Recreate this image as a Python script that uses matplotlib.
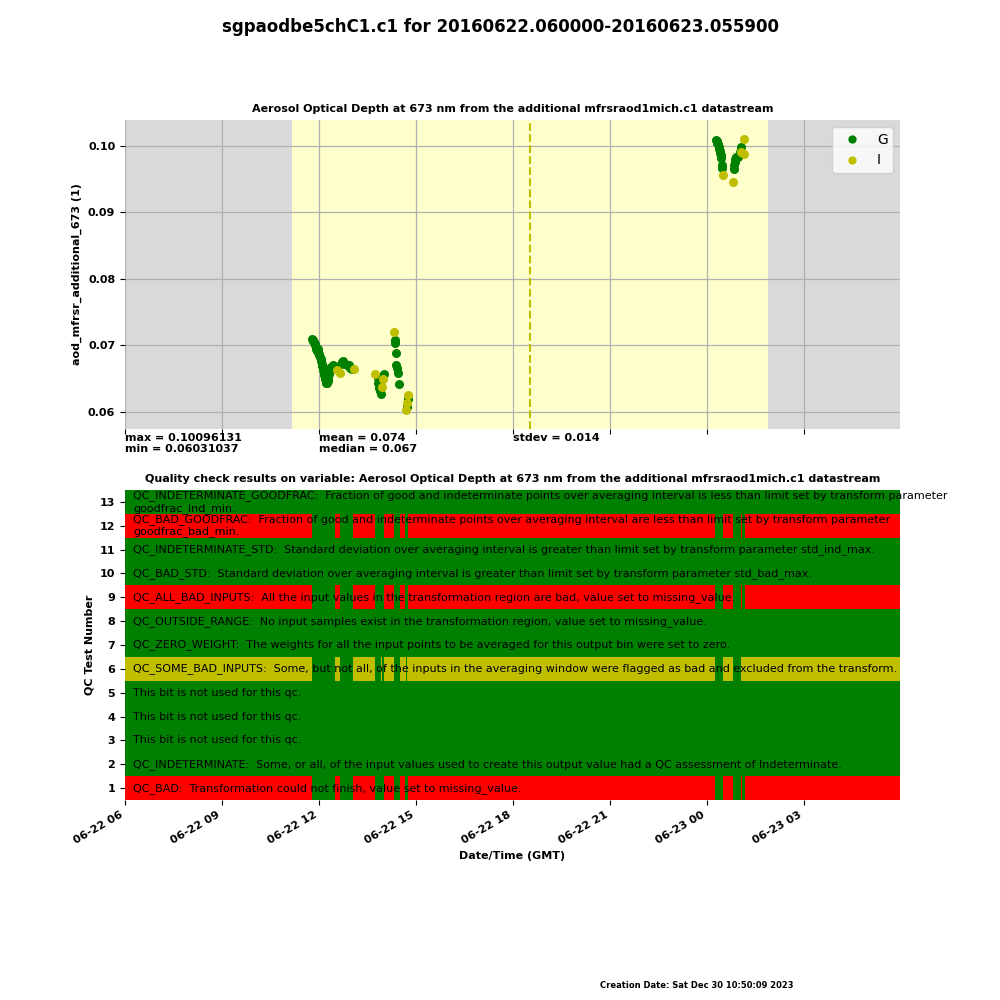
import matplotlib
matplotlib.use("Agg")
import matplotlib.pyplot as plt
import matplotlib.dates as mdates
import matplotlib.transforms as mtransforms
import pandas as pd

# ---------------- data ----------------
fig_title = "sgpaodbe5chC1.c1 for 20160622.060000-20160623.055900"
top_title = "Aerosol Optical Depth at 673 nm from the additional mfrsraod1mich.c1 datastream"
qc_title = ("Quality check results on variable: Aerosol Optical Depth at 673 nm "
            "from the additional mfrsraod1mich.c1 datastream")
top_ylabel = "aod_mfrsr_additional_673 (1)"
qc_ylabel = "QC Test Number"
qc_xlabel = "Date/Time (GMT)"
creation_text = "Creation Date: Sat Dec 30 10:50:09 2023"

time_start = "2016-06-22 06:00"
time_end = "2016-06-23 05:59"
sunrise = "2016-06-22 11:10"
sunset = "2016-06-23 01:53"
solar_noon = "2016-06-22 18:32"

g_times = [
    "2016-06-22 11:48", "2016-06-22 11:49", "2016-06-22 11:50", "2016-06-22 11:51",
    "2016-06-22 11:52", "2016-06-22 11:53", "2016-06-22 11:54", "2016-06-22 11:55",
    "2016-06-22 11:56", "2016-06-22 11:57", "2016-06-22 11:58", "2016-06-22 11:59",
    "2016-06-22 12:00", "2016-06-22 12:01", "2016-06-22 12:02", "2016-06-22 12:03",
    "2016-06-22 12:04", "2016-06-22 12:05", "2016-06-22 12:06", "2016-06-22 12:07",
    "2016-06-22 12:08", "2016-06-22 12:09", "2016-06-22 12:10", "2016-06-22 12:11",
    "2016-06-22 12:12", "2016-06-22 12:13", "2016-06-22 12:14", "2016-06-22 12:15",
    "2016-06-22 12:16", "2016-06-22 12:17", "2016-06-22 12:18", "2016-06-22 12:19",
    "2016-06-22 12:21", "2016-06-22 12:23", "2016-06-22 12:26", "2016-06-22 12:29",
    "2016-06-22 12:41", "2016-06-22 12:43", "2016-06-22 12:45", "2016-06-22 12:47",
    "2016-06-22 12:49", "2016-06-22 12:52", "2016-06-22 12:55", "2016-06-22 12:58",
    "2016-06-22 13:01",
    "2016-06-22 13:49", "2016-06-22 13:50", "2016-06-22 13:51", "2016-06-22 13:53",
    "2016-06-22 13:55", "2016-06-22 14:01",
    "2016-06-22 14:21", "2016-06-22 14:22", "2016-06-22 14:23", "2016-06-22 14:24",
    "2016-06-22 14:25", "2016-06-22 14:26", "2016-06-22 14:29",
    "2016-06-22 14:43", "2016-06-22 14:45",
    "2016-06-23 00:18", "2016-06-23 00:19", "2016-06-23 00:20", "2016-06-23 00:21",
    "2016-06-23 00:22", "2016-06-23 00:23", "2016-06-23 00:24", "2016-06-23 00:25",
    "2016-06-23 00:26", "2016-06-23 00:27", "2016-06-23 00:28", "2016-06-23 00:29",
    "2016-06-23 00:50", "2016-06-23 00:51", "2016-06-23 00:52", "2016-06-23 00:53",
    "2016-06-23 00:55", "2016-06-23 00:58", "2016-06-23 01:00", "2016-06-23 01:02",
    "2016-06-23 01:04",
]
g_values = [
    0.0709, 0.0708, 0.0707, 0.0705,
    0.0702, 0.0700, 0.0697, 0.0695,
    0.0694, 0.0692, 0.0695, 0.0690,
    0.0687, 0.0685, 0.0682, 0.0679,
    0.0676, 0.0672, 0.0669, 0.0666,
    0.0663, 0.0659, 0.0656, 0.0652,
    0.0649, 0.0645, 0.0643, 0.0644,
    0.0647, 0.0651, 0.0657, 0.0661,
    0.0666, 0.0668, 0.0670, 0.0668,
    0.0672, 0.0675, 0.0676, 0.0673,
    0.0672, 0.0671, 0.0670, 0.0666,
    0.0664,
    0.0651, 0.0643, 0.0636, 0.0631,
    0.0627, 0.0657,
    0.0708, 0.0703, 0.0688, 0.0671,
    0.0666, 0.0658, 0.0642,
    0.0608, 0.0620,
    0.1009, 0.1007, 0.1005, 0.1003,
    0.0999, 0.0996, 0.0993, 0.0990,
    0.0986, 0.0982, 0.0972, 0.0967,
    0.0966, 0.0971, 0.0976, 0.0981,
    0.0983, 0.0984, 0.0987, 0.0991,
    0.0999,
]
i_times = [
    "2016-06-22 12:33", "2016-06-22 12:39", "2016-06-22 13:05",
    "2016-06-22 13:44", "2016-06-22 13:57", "2016-06-22 13:59",
    "2016-06-22 14:20",
    "2016-06-22 14:42", "2016-06-22 14:44", "2016-06-22 14:46",
    "2016-06-23 00:30", "2016-06-23 00:49", "2016-06-23 01:03",
    "2016-06-23 01:09", "2016-06-23 01:10",
]
i_values = [
    0.0663, 0.0658, 0.0664,
    0.0657, 0.0638, 0.0650,
    0.0720,
    0.0603, 0.0614, 0.0626,
    0.0956, 0.0946, 0.0991,
    0.1010, 0.0988,
]

stats_left = "max = 0.10096131\nmin = 0.06031037"
stats_mid = "mean = 0.074\nmedian = 0.067"
stats_right = "stdev = 0.014"
stats_times = ["2016-06-22 06:00", "2016-06-22 12:00", "2016-06-22 18:00"]

qc_numbers = list(range(1, 14))
qc_descriptions = [
    "QC_BAD:  Transformation could not finish, value set to missing_value.",
    "QC_INDETERMINATE:  Some, or all, of the input values used to create this output value had a QC assessment of Indeterminate.",
    "This bit is not used for this qc.",
    "This bit is not used for this qc.",
    "This bit is not used for this qc.",
    "QC_SOME_BAD_INPUTS:  Some, but not all, of the inputs in the averaging window were flagged as bad and excluded from the transform.",
    "QC_ZERO_WEIGHT:  The weights for all the input points to be averaged for this output bin were set to zero.",
    "QC_OUTSIDE_RANGE:  No input samples exist in the transformation region, value set to missing_value.",
    "QC_ALL_BAD_INPUTS:  All the input values in the transformation region are bad, value set to missing_value.",
    "QC_BAD_STD:  Standard deviation over averaging interval is greater than limit set by transform parameter std_bad_max.",
    "QC_INDETERMINATE_STD:  Standard deviation over averaging interval is greater than limit set by transform parameter std_ind_max.",
    "QC_BAD_GOODFRAC:  Fraction of good and indeterminate points over averaging interval are less than limit set by transform parameter\ngoodfrac_bad_min.",
    "QC_INDETERMINATE_GOODFRAC:  Fraction of good and indeterminate points over averaging interval is less than limit set by transform parameter\ngoodfrac_ind_min.",
]
# state of each row outside the "passing" windows
qc_base_state = ["bad", "good", "good", "good", "good", "ind", "good",
                 "good", "bad", "good", "good", "bad", "good"]

# windows where the bad-type tests (1, 9, 12) pass
bad_pass_start = ["2016-06-22 11:48", "2016-06-22 12:39", "2016-06-22 13:44",
                  "2016-06-22 14:19", "2016-06-22 14:40", "2016-06-23 00:16",
                  "2016-06-23 00:48", "2016-06-23 01:06"]
bad_pass_end = ["2016-06-22 12:30", "2016-06-22 13:04", "2016-06-22 14:01",
                "2016-06-22 14:30", "2016-06-22 14:45", "2016-06-23 00:30",
                "2016-06-23 01:03", "2016-06-23 01:11"]
# windows where test 6 passes
ind_pass_start = ["2016-06-22 11:48", "2016-06-22 12:39", "2016-06-22 13:44",
                  "2016-06-22 13:58", "2016-06-22 14:19", "2016-06-22 14:42",
                  "2016-06-23 00:16", "2016-06-23 00:48"]
ind_pass_end = ["2016-06-22 12:30", "2016-06-22 13:04", "2016-06-22 13:56",
                "2016-06-22 14:01", "2016-06-22 14:30", "2016-06-22 14:43",
                "2016-06-23 00:30", "2016-06-23 01:03"]

# ---------------- styling ----------------
plt.rcParams["font.family"] = ["DejaVu Sans"]
plt.rcParams["font.weight"] = "bold"
plt.rcParams["axes.labelweight"] = "bold"
plt.rcParams["axes.titleweight"] = "bold"

state_colors = {"good": "green", "bad": "red", "ind": "y"}
night_color = "#d9d9d9"
day_color = "#ffffcc"

t = lambda s: pd.to_datetime(s)
t0, t1 = t(time_start), t(time_end)

fig = plt.figure(figsize=(10, 10), dpi=100)
fig.text(0.5, 0.973, fig_title, ha="center", va="center", fontsize=12, fontweight="bold")

# ---------------- top axes ----------------
ax1 = fig.add_axes([0.125, 0.571, 0.775, 0.309])
ax1.axvspan(t0, t(sunrise), color=night_color, lw=0, zorder=0)
ax1.axvspan(t(sunrise), t(sunset), color=day_color, lw=0, zorder=0)
ax1.axvspan(t(sunset), t1, color=night_color, lw=0, zorder=0)
ax1.axvline(t(solar_noon), color="y", ls="--", lw=1.5, zorder=2)
ax1.plot(pd.to_datetime(g_times), g_values, "o", ls="none", color="green", ms=5.5,
         label="G", zorder=3)
ax1.plot(pd.to_datetime(i_times), i_values, "o", ls="none", color="y", ms=5.5,
         label="I", zorder=3)
ax1.set_xlim(t0, t1)
ax1.set_ylim(0.05744, 0.1039)
ax1.set_yticks([0.06, 0.07, 0.08, 0.09, 0.10])
ax1.yaxis.set_major_formatter(matplotlib.ticker.FormatStrFormatter("%.2f"))
ax1.xaxis.set_major_locator(mdates.HourLocator(byhour=range(0, 24, 3)))
ax1.grid(True, color="#b0b0b0", lw=0.9)
ax1.tick_params(labelbottom=False, labelsize=8)
for sp in ax1.spines.values():
    sp.set_visible(False)
ax1.set_title(top_title, fontsize=8, fontweight="bold", pad=6)
ax1.set_ylabel(top_ylabel, fontsize=8, fontweight="bold")
leg = ax1.legend(loc="upper right", prop={"size": 10, "weight": "normal"},
                 markerscale=0.9)

tr = mtransforms.blended_transform_factory(ax1.transData, ax1.transAxes)
for st, txt in zip(stats_times, [stats_left, stats_mid, stats_right]):
    ax1.text(t(st), -0.012, txt, transform=tr, ha="left", va="top",
             fontsize=8, fontweight="bold")

# ---------------- QC axes ----------------
ax2 = fig.add_axes([0.125, 0.2, 0.775, 0.31])
x0n = mdates.date2num(t0)
x1n = mdates.date2num(t1)
for num, state in zip(qc_numbers, qc_base_state):
    ax2.broken_barh([(x0n, x1n - x0n)], (num - 0.5, 1.0),
                    facecolor=state_colors[state], edgecolor="none")
    if state == "bad":
        starts, ends = bad_pass_start, bad_pass_end
    elif state == "ind":
        starts, ends = ind_pass_start, ind_pass_end
    else:
        starts, ends = [], []
    segs = [(mdates.date2num(t(s)), mdates.date2num(t(e)) - mdates.date2num(t(s)))
            for s, e in zip(starts, ends)]
    if segs:
        ax2.broken_barh(segs, (num - 0.5, 1.0), facecolor="green", edgecolor="none")

tr2 = mtransforms.blended_transform_factory(ax2.transAxes, ax2.transData)
for num, desc in zip(qc_numbers, qc_descriptions):
    ax2.text(0.0103, num, desc, transform=tr2, ha="left", va="center",
             fontsize=8, fontweight="normal", color="black", clip_on=False)

ax2.set_xlim(x0n, x1n)
ax2.set_ylim(0.5, 13.5)
ax2.set_yticks(qc_numbers)
ax2.xaxis.set_major_locator(mdates.HourLocator(byhour=range(0, 24, 3)))
ax2.xaxis.set_major_formatter(mdates.DateFormatter("%m-%d %H"))
ax2.tick_params(labelsize=8)
for lab in ax2.get_xticklabels():
    lab.set_rotation(30)
    lab.set_ha("right")
for sp in ax2.spines.values():
    sp.set_visible(False)
ax2.set_title(qc_title, fontsize=8, fontweight="bold", pad=6)
ax2.set_ylabel(qc_ylabel, fontsize=8, fontweight="bold")
ax2.set_xlabel(qc_xlabel, fontsize=8, fontweight="bold")

fig.text(0.6, 0.015, creation_text, ha="left", va="center", fontsize=6, fontweight="bold")

fig.savefig("out.png", dpi=100)
